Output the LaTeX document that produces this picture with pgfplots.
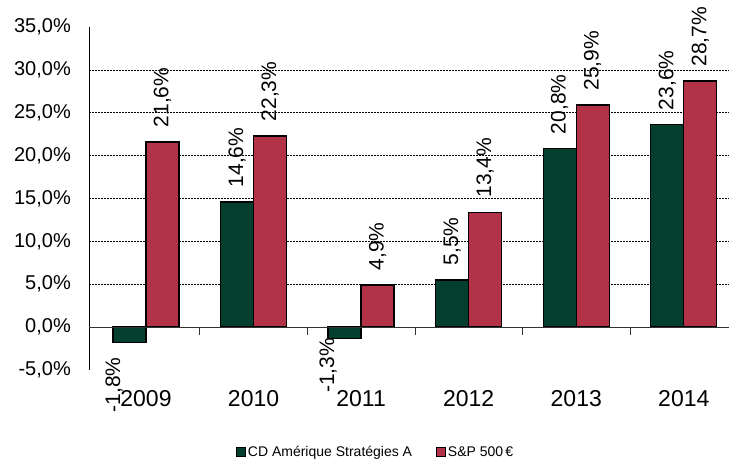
\documentclass[border=0pt]{standalone}
\usepackage{pgfplots}
\pgfplotsset{compat=1.18}
\usepackage{pgfplotstable}
\usepackage{fontspec}
\setmainfont{Liberation Sans}
\definecolor{cdgreen}{RGB}{4,62,46}
\definecolor{spred}{RGB}{178,50,72}

% label above a positive bar, and below a negative one (raise, gap in pt)
\newcommand\poslab[1]{\hspace*{14pt}#1\%}
\newcommand\neglab[3]{\smash{\makebox[0pt][r]{\raisebox{#2pt}{#1\%}\hspace*{#3pt}}}}

\pgfplotstableread{
x y lab
0 -1.8 \neglab{-1,8}{9.5}{16}
1 14.6 \poslab{14,6}
2 -1.3 \neglab{-1,3}{10.5}{1}
3 5.5 \poslab{5,5}
4 20.8 \poslab{20,8}
5 23.6 \poslab{23,6}
}\cdtable

\pgfplotstableread{
x y lab
0 21.6 \poslab{21,6}
1 22.3 \poslab{22,3}
2 4.9 \poslab{4,9}
3 13.4 \poslab{13,4}
4 25.9 \poslab{25,9}
5 28.7 \poslab{28,7}
}\sptable

\begin{document}
\begin{tikzpicture}
\begin{axis}[
  scale only axis, width=640pt, height=343pt,
  xmin=-0.53, xmax=5.42, ymin=-5, ymax=35,
  ybar=0pt, bar width=33pt,
  clip=false,
  axis y line=left,
  y axis line style={-, black, line width=0.8pt},
  x axis line style={draw=none},
  major tick length=0pt,
  xtick={0,1,2,3,4,5},
  xticklabels={2009,2010,2011,2012,2013,2014},
  xticklabel style={anchor=base, yshift=-37pt, font=\fontsize{23}{26}\selectfont},
  ytick={-5,0,5,10,15,20,25,30,35},
  yticklabel={\pgfmathprintnumber[fixed,fixed zerofill,precision=1,use comma,assume math mode=true]{\tick}\%},
  yticklabel style={anchor=east, inner sep=0pt, xshift=-18pt, font=\fontsize{20}{24}\selectfont},
  extra y ticks={5,10,15,20,25,30},
  extra y tick labels={},
  extra y tick style={grid=major, major grid style={black, dash pattern=on 2pt off 1pt, line width=0.7pt}},
  nodes near coords,
  point meta=explicit symbolic,
  every node near coord/.append style={rotate=90, anchor=west, inner sep=0pt, black, font=\fontsize{21}{24}\selectfont},
  legend columns=2,
  legend style={at={(0.448,-0.239)}, anchor=center, draw=none, fill=none,
    font=\fontsize{14}{16}\selectfont,
    /tikz/every even column/.append style={column sep=22pt}},
  legend image code/.code={\draw[#1, line width=0.8pt] (0pt,-4.5pt) rectangle (9pt,4.5pt);},
]
\addplot[fill=cdgreen, draw=black, line width=1.3pt] table[x=x,y=y,meta=lab] {\cdtable};
\addlegendentry{CD Amérique Stratégies A}
\addplot[fill=spred, draw=black, line width=1.3pt] table[x=x,y=y,meta=lab] {\sptable};
\addlegendentry{S\&P 500\,€}
\draw[black!80, line width=0.8pt] (axis cs:-0.53,0) -- (axis cs:5.42,0);
\draw[black!80, line width=0.8pt] (axis cs:0.5,0) -- ++(0pt,-8pt);
\draw[black!80, line width=0.8pt] (axis cs:1.5,0) -- ++(0pt,-8pt);
\draw[black!80, line width=0.8pt] (axis cs:2.5,0) -- ++(0pt,-8pt);
\draw[black!80, line width=0.8pt] (axis cs:3.5,0) -- ++(0pt,-8pt);
\draw[black!80, line width=0.8pt] (axis cs:4.5,0) -- ++(0pt,-8pt);
\coordinate (bl) at (rel axis cs:0,0);
\end{axis}
\pgfresetboundingbox
\path (bl) ++(-89pt,-98pt) rectangle ++(732pt,468pt);
\end{tikzpicture}
\end{document}
